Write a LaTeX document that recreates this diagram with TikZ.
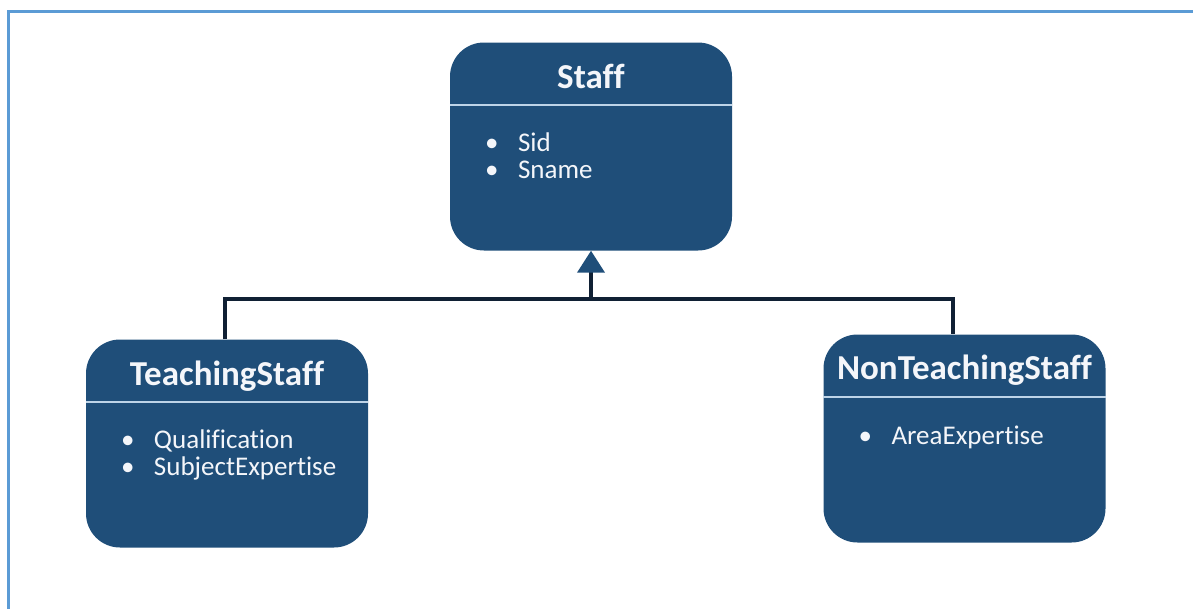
\documentclass[tikz,border=0pt]{standalone}
\usepackage{fontspec}
\setmainfont{Carlito}[Ligatures={NoCommon}]
\usetikzlibrary{calc}
\usetikzlibrary{arrows.meta}
\usetikzlibrary{positioning}
\definecolor{classblue}{RGB}{31, 78, 121}
\definecolor{linenavy}{RGB}{16, 32, 52}
\definecolor{framesky}{RGB}{91, 155, 213}
\definecolor{rulegray}{RGB}{190, 212, 232}
\definecolor{textwhite}{RGB}{244, 246, 250}

\tikzset{
  classbox/.style={fill=classblue, rounded corners=34pt, minimum width=282pt,
                   minimum height=208pt, inner sep=0pt},
  classname/.style={text=textwhite, font=\fontsize{35}{35}\selectfont\bfseries, anchor=base, inner sep=0pt},
  classattr/.style={text=textwhite, font=\fontsize{27}{27}\selectfont, anchor=base west, inner sep=0pt},
  classrule/.style={draw=rulegray, line width=1.8pt},
  genline/.style={draw=linenavy, line width=4pt},
}
\newcommand{\attrlist}[1]{\begin{tabular}[t]{@{}l@{}}#1\end{tabular}}
\newcommand{\attritem}[1]{\makebox[33pt][l]{\textbullet}#1}

\begin{document}
\begin{tikzpicture}[x=1pt, y=-1pt]
            \useasboundingbox                                      (0, 0) rectangle (1193, 608);
            % Frame
            \draw[framesky, line width=3pt]                        (8, 620) -- (8, 11) -- (1210, 11);
            % Staff
            \node[classbox]                   (staff)      at (591, 146.5) {};
            \node[classname]                  (staffname)  at ([yshift=-46pt]staff.north) {Staff};
            \draw[classrule] ([yshift=-63pt]staff.north west) -- ([yshift=-63pt]staff.north east);
            \node[classattr]                  (staffattr)  at ([xshift=35pt, yshift=-109pt]staff.north west)
                 {\attrlist{\attritem{Sid}\\ \attritem{Sname}}};
            % TeachingStaff
            \node[classbox]                   (teach)      at (227, 443.5) {};
            \node[classname]                  (teachname)  at ([yshift=-46pt]teach.north) {TeachingStaff};
            \draw[classrule] ([yshift=-63pt]teach.north west) -- ([yshift=-63pt]teach.north east);
            \node[classattr]                  (teachattr)  at ([xshift=35pt, yshift=-109pt]teach.north west)
                 {\attrlist{\attritem{Qualification}\\ \attritem{SubjectExpertise}}};
            % NonTeachingStaff
            \node[classbox]                   (nonteach)   at (964.5, 438.5) {};
            \node[classname]                  (nonteachname) at ([yshift=-45pt]nonteach.north) {NonTeachingStaff};
            \draw[classrule] ([yshift=-63pt]nonteach.north west) -- ([yshift=-63pt]nonteach.north east);
            \node[classattr]                  (nonteachattr) at ([xshift=35pt, yshift=-110pt]nonteach.north west)
                 {\attrlist{\attritem{AreaExpertise}}};
            % Generalisation
            \coordinate                       (joint)      at (591, 299);
            \draw[genline]            ([xshift=-2pt]teach.north) |- (joint) -| ([xshift=-12pt]nonteach.north);
            \draw[genline, -{Triangle[width=27pt, length=22pt, color=classblue]}] (joint) -- (staff.south);
\end{tikzpicture}
\end{document}
